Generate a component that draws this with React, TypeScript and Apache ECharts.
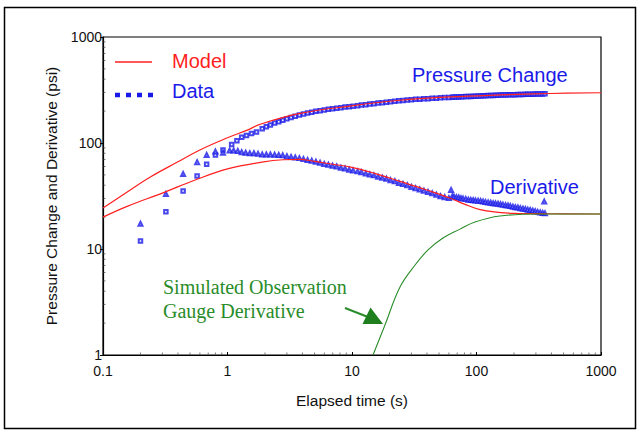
import React, { useEffect, useRef } from "react";
import * as echarts from "echarts";

// Model (type curve) – pressure change
const modelPressureT = [0.1, 0.15, 0.24, 0.4, 0.6, 1, 1.46, 1.82, 3.83, 9.64, 24.3, 61, 154, 389, 1000];
const modelPressure = [24.4, 33.4, 47.8, 66.5, 86, 112, 133, 150, 190, 223, 253, 272, 284, 293, 298];

// Model – derivative
const modelDerivT = [0.1, 0.158, 0.3, 0.55, 1, 1.89, 2.8, 3.8, 5, 7, 10, 15, 24.3, 40, 61, 80, 107, 150, 200, 355, 1000];
const modelDeriv = [20, 25.4, 33.7, 44.8, 57, 66, 69.5, 70, 67, 63, 59, 52, 43.5, 36, 30.3, 26.5, 23.5, 22.2, 21.7, 21.5, 21.4];

// Simulated observation gauge derivative
const obsT = [14.75, 18.4, 24.3, 32.1, 40.8, 53.8, 73.7, 97.2, 154, 324, 1000];
const obsDeriv = [1, 1.92, 4.38, 7.06, 9.8, 12.7, 15.4, 18.0, 20.5, 21.4, 21.4];

// Measured data – pressure change (squares)
const dataPT = [0.2, 0.32, 0.44, 0.57, 0.68, 0.8, 0.92, 1.08, 1.19, 1.3, 1.42, 1.56, 1.71, 1.9, 2.05, 2.21, 2.39, 2.58, 2.78, 3.0, 3.24, 3.5, 3.78, 4.08, 4.4, 4.75, 5.13, 5.54, 5.98, 6.46, 6.98, 7.54, 8.14, 8.79, 9.49, 10.2, 11.1, 11.9, 12.9, 13.9, 15.0, 16.2, 17.5, 18.9, 20.4, 22.1, 23.8, 25.7, 27.8, 30, 32.4, 35, 37.8, 40.8, 44.1, 47.6, 51.4, 55.5, 60, 64, 66, 69, 72, 75, 78, 82, 86, 90, 94, 98, 103, 108, 113, 118, 124, 130, 136, 142, 149, 156, 163, 171, 179, 187, 196, 205, 215, 225, 236, 247, 258, 270, 283, 296, 310, 325, 340, 355];
const dataP = [11.9, 22.5, 35.3, 48.8, 63, 77, 86, 97, 105, 113, 118, 123, 127, 136, 142, 148, 154, 159, 164, 169, 174, 179, 184, 188, 192, 195, 199, 202, 205, 208, 210, 213, 215, 218, 220, 222, 225, 228, 230, 233, 235, 238, 240, 243, 245, 248, 250, 252, 254, 256, 258, 259, 261, 262, 264, 265, 267, 268, 269, 270, 271, 271.5, 272, 272.5, 273, 274, 274.5, 275, 276, 276.5, 277, 278, 278.5, 279, 280, 280.5, 281, 282, 282.5, 283, 283.5, 284, 284.5, 285, 285.5, 286, 286.5, 287, 287.5, 288, 288.5, 289, 289, 289.5, 290, 290, 290.5, 291];

// Measured data – derivative (triangles)
const dataDT = [0.2, 0.32, 0.44, 0.57, 0.68, 0.8, 0.92, 1.04, 1.12, 1.21, 1.3, 1.4, 1.51, 1.63, 1.76, 1.9, 2.05, 2.21, 2.39, 2.58, 2.78, 3.0, 3.24, 3.5, 3.78, 4.08, 4.4, 4.75, 5.13, 5.54, 5.98, 6.46, 6.98, 7.54, 8.14, 8.79, 9.49, 10.2, 11.1, 11.9, 12.9, 13.9, 15.0, 16.2, 17.5, 18.9, 20.4, 22.1, 23.8, 25.7, 27.8, 30, 32.4, 35, 37.8, 40.8, 44.1, 47.6, 51.4, 55.5, 60, 62.5, 64, 66, 69, 72, 75, 78, 82, 86, 90, 94, 98, 103, 108, 113, 118, 124, 130, 136, 142, 149, 156, 163, 171, 179, 187, 196, 205, 215, 225, 236, 247, 258, 270, 283, 296, 310, 325, 340, 350, 355];
const dataD = [17.3, 33, 51, 66, 77, 83, 81, 85, 85, 84, 82, 81, 80, 80, 79, 78, 78, 78, 77.5, 77, 76.5, 75, 74, 73, 72, 70.5, 69, 68, 66.5, 65, 63.5, 62.5, 61, 60, 58.5, 57.5, 56, 55, 54, 53, 51.5, 50.5, 49.5, 48, 47, 46, 44.5, 43.5, 42, 41, 40, 38.5, 37.5, 36.5, 35.5, 34.5, 33.5, 32.5, 31.5, 30.8, 30.2, 36, 31.5, 31.2, 30.8, 30.6, 30.1, 29.9, 29.6, 29.2, 29.0, 28.8, 28.7, 28.5, 28.3, 28.0, 27.8, 27.5, 27.3, 27.0, 26.9, 26.7, 26.4, 26.2, 25.9, 25.7, 25.4, 25.1, 24.8, 24.6, 24.3, 24.0, 23.8, 23.5, 23.3, 23.0, 22.7, 22.4, 22.1, 21.9, 28, 21.7];

// Axis ticks
const xTicks = [0.1, 1, 10, 100, 1000];
const yTicks = [1, 10, 100, 1000];
const minorMultipliers = [2, 3, 4, 5, 6, 7, 8, 9];

const RED = "#ff1f1f";
const BLUE = "#1a1ae8";
const GREEN = "#2a8c2a";

const zip = (a: number[], b: number[]) => a.map((v, i) => [v, b[i]]);
const minorOf = (decades: number[]) =>
  decades.slice(0, -1).flatMap((d) => minorMultipliers.map((m) => +(d * m).toPrecision(3)));

export default function App() {
  const ref = useRef<HTMLDivElement>(null);
  useEffect(() => {
    if (!ref.current) return;
    const chart = echarts.init(ref.current, null, { renderer: "svg" });
    const font = "Liberation Sans, Arial, sans-serif";
    const serif = "Liberation Serif, Times New Roman, serif";
    const xMinor = minorOf(xTicks).map((v) => [v, yTicks[0]]);
    const yMinor = minorOf(yTicks).map((v) => [xTicks[0], v]);
    chart.setOption({
      animation: false,
      backgroundColor: "#ffffff",
      grid: { left: 103, top: 37, right: 42, bottom: 83, show: true, borderColor: "#000", borderWidth: 1.2 },
      xAxis: {
        type: "log",
        logBase: 10,
        min: xTicks[0],
        max: xTicks[xTicks.length - 1],
        name: "Elapsed time (s)",
        nameLocation: "middle",
        nameGap: 37,
        nameTextStyle: { fontFamily: font, fontSize: 15.5, color: "#111" },
        axisLine: { lineStyle: { color: "#000", width: 1.2 } },
        axisTick: { show: true, inside: true, length: 3, lineStyle: { color: "#000" } },
        axisLabel: { fontFamily: font, fontSize: 14, color: "#111", margin: 9, formatter: (v: number) => String(v) },
        splitLine: { show: false },
      },
      yAxis: {
        type: "log",
        logBase: 10,
        min: yTicks[0],
        max: yTicks[yTicks.length - 1],
        name: "Pressure Change and Derivative (psi)",
        nameLocation: "middle",
        nameGap: 42,
        nameTextStyle: { fontFamily: font, fontSize: 15.5, color: "#111" },
        axisLine: { lineStyle: { color: "#000", width: 1.2 } },
        axisTick: { show: true, length: 3, lineStyle: { color: "#000" } },
        axisLabel: { fontFamily: font, fontSize: 14, color: "#111", margin: 1, formatter: (v: number) => String(v) },
        splitLine: { show: false },
      },
      series: [
        {
          type: "scatter",
          data: xMinor,
          symbol: "rect",
          symbolSize: [1, 2],
          symbolOffset: [0, -1.5],
          itemStyle: { color: "#555" },
          silent: true,
          z: 1,
        },
        {
          type: "scatter",
          data: yMinor,
          symbol: "rect",
          symbolSize: [2, 1],
          symbolOffset: [1.5, 0],
          itemStyle: { color: "#555" },
          silent: true,
          z: 1,
        },
        {
          type: "scatter",
          data: zip(dataPT, dataP),
          symbol: "emptyRect",
          symbolSize: 3.5,
          itemStyle: { color: BLUE, borderColor: BLUE, borderWidth: 1.1 },
          z: 2,
        },
        {
          type: "scatter",
          data: zip(dataDT, dataD),
          symbol: "emptyTriangle",
          symbolSize: 4,
          itemStyle: { color: BLUE, borderColor: BLUE, borderWidth: 1.1 },
          z: 2,
        },
        {
          type: "line",
          data: zip(modelPressureT, modelPressure),
          smooth: 0.4,
          showSymbol: false,
          lineStyle: { color: RED, width: 1.2 },
          z: 3,
        },
        {
          type: "line",
          data: zip(modelDerivT, modelDeriv),
          smooth: 0.4,
          showSymbol: false,
          lineStyle: { color: RED, width: 1.2 },
          z: 3,
        },
        {
          type: "line",
          data: zip(obsT, obsDeriv),
          smooth: 0.4,
          showSymbol: false,
          lineStyle: { color: GREEN, width: 1.1 },
          z: 4,
        },
      ],
      graphic: [
        { type: "rect", shape: { x: 4.5, y: 7.5, width: 631, height: 421 }, style: { fill: "none", stroke: "#000", lineWidth: 1.5 }, z: 0 },
        { type: "line", shape: { x1: 115, y1: 62, x2: 152, y2: 62 }, style: { stroke: RED, lineWidth: 1.5 } },
        { type: "text", x: 172, y: 61, style: { text: "Model", fill: RED, font: `20px ${font}`, textVerticalAlign: "middle" } },
        { type: "line", shape: { x1: 115, y1: 95, x2: 154, y2: 95 }, style: { stroke: BLUE, lineWidth: 4.7, lineDash: [5, 6] } },
        { type: "text", x: 172, y: 91, style: { text: "Data", fill: BLUE, font: `20px ${font}`, textVerticalAlign: "middle" } },
        { type: "text", x: 412, y: 75, style: { text: "Pressure Change", fill: BLUE, font: `20px ${font}`, textVerticalAlign: "middle" } },
        { type: "text", x: 490, y: 187, style: { text: "Derivative", fill: BLUE, font: `20px ${font}`, textVerticalAlign: "middle" } },
        { type: "text", x: 163, y: 287, style: { text: "Simulated Observation", fill: GREEN, font: `20px ${serif}`, textVerticalAlign: "middle" } },
        { type: "text", x: 163, y: 311, style: { text: "Gauge Derivative", fill: GREEN, font: `20px ${serif}`, textVerticalAlign: "middle" } },
        { type: "line", shape: { x1: 345, y1: 308, x2: 368, y2: 317 }, style: { stroke: GREEN, lineWidth: 2 } },
        { type: "polygon", shape: { points: [[383, 324], [362.5, 324], [370.5, 307.5]] }, style: { fill: "#1f7f1f" } },
      ],
    });
    return () => chart.dispose();
  }, []);
  return <div ref={ref} style={{ position: "fixed", left: 0, top: 0, width: 643, height: 438 }} />;
}
